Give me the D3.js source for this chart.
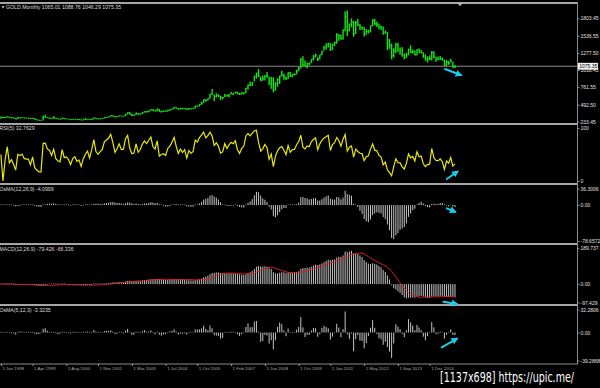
<!DOCTYPE html>
<html>
<head>
<meta charset="utf-8">
<script src="https://cdn.jsdelivr.net/npm/d3@7"></script>
<style>
    html, body { margin: 0; padding: 0; background: #000; }
    svg { display: block; }
</style>
</head>
<body>
<svg id="chart" width="600" height="388"></svg>
<script>
'use strict';

// monthly GOLD bars, Jan 1998 .. Dec 2015 (one row per year)
var closes = [
    303, 297, 301, 308, 293, 296, 288, 273, 294, 292, 294, 288,
    287, 287, 280, 286, 268, 261, 255, 255, 299, 300, 292, 290,
    283, 293, 278, 274, 272, 289, 276, 277, 273, 264, 270, 272,
    266, 267, 258, 264, 268, 271, 265, 273, 293, 279, 275, 279,
    282, 297, 302, 308, 326, 318, 305, 312, 324, 317, 317, 347,
    368, 347, 334, 336, 364, 346, 354, 375, 388, 384, 398, 416,
    400, 396, 427, 388, 393, 395, 391, 408, 415, 428, 453, 438,
    422, 435, 428, 435, 417, 435, 429, 433, 473, 470, 495, 517,
    569, 556, 582, 654, 643, 613, 633, 623, 599, 604, 646, 632,
    650, 665, 662, 678, 659, 650, 665, 672, 743, 789, 783, 834,
    923, 971, 917, 865, 885, 928, 912, 833, 870, 716, 815, 882,
    927, 942, 916, 883, 980, 926, 954, 955, 1001, 1040, 1182, 1096,
    1081, 1118, 1113, 1179, 1213, 1244, 1181, 1248, 1307, 1357, 1385, 1421,
    1332, 1410, 1439, 1556, 1536, 1500, 1628, 1828, 1620, 1714, 1746, 1565,
    1737, 1697, 1669, 1664, 1559, 1604, 1614, 1691, 1773, 1719, 1713, 1675,
    1663, 1578, 1595, 1472, 1392, 1234, 1312, 1396, 1327, 1323, 1250, 1202,
    1244, 1326, 1284, 1296, 1250, 1327, 1282, 1287, 1210, 1172, 1182, 1184,
    1283, 1212, 1183, 1182, 1190, 1172, 1095, 1134, 1115, 1142, 1065, 1075.35
];
var highs = [
    307, 307, 304, 315, 310, 301, 298, 290, 300, 302, 300, 299,
    292, 291, 292, 291, 290, 266, 263, 260, 324, 338, 302, 293,
    292, 316, 298, 284, 280, 294, 291, 280, 277, 274, 271, 275,
    273, 269, 268, 266, 291, 274, 272, 277, 294, 293, 282, 282,
    289, 298, 304, 312, 328, 330, 321, 316, 327, 325, 321, 349,
    376, 382, 353, 340, 372, 364, 363, 377, 391, 397, 402, 417,
    427, 414, 429, 428, 398, 402, 405, 413, 417, 431, 455, 457,
    441, 440, 446, 438, 436, 440, 433, 445, 474, 478, 497, 537,
    571, 575, 585, 654, 730, 641, 663, 651, 628, 606, 650, 643,
    653, 690, 670, 692, 690, 672, 682, 675, 744, 797, 845, 837,
    932, 977, 1033, 918, 936, 942, 988, 916, 915, 909, 831, 891,
    931, 1007, 963, 921, 980, 988, 959, 965, 1024, 1070, 1195, 1226,
    1161, 1127, 1134, 1180, 1249, 1265, 1212, 1251, 1307, 1388, 1425, 1431,
    1424, 1411, 1447, 1577, 1561, 1557, 1632, 1912, 1921, 1725, 1803, 1764,
    1764, 1792, 1717, 1679, 1667, 1641, 1625, 1693, 1790, 1796, 1755, 1725,
    1696, 1678, 1617, 1594, 1488, 1420, 1348, 1433, 1434, 1361, 1362, 1267,
    1280, 1345, 1392, 1331, 1315, 1332, 1345, 1323, 1288, 1255, 1225, 1238,
    1307, 1302, 1219, 1224, 1232, 1205, 1175, 1170, 1157, 1191, 1143, 1088.76
];
var lows = [
    278, 290, 288, 299, 290, 284, 285, 271, 273, 287, 290, 285,
    285, 282, 278, 279, 267, 256, 253, 252, 254, 296, 289, 279,
    280, 281, 277, 273, 268, 271, 274, 272, 270, 263, 264, 268,
    262, 255, 256, 254, 263, 265, 263, 264, 270, 277, 271, 270,
    278, 282, 288, 300, 308, 312, 302, 301, 312, 312, 315, 318,
    343, 344, 320, 321, 336, 340, 342, 350, 370, 371, 378, 398,
    398, 392, 390, 387, 372, 382, 388, 387, 398, 412, 426, 432,
    417, 418, 425, 423, 415, 415, 417, 429, 433, 463, 464, 491,
    516, 538, 554, 582, 642, 543, 601, 608, 561, 572, 603, 612,
    602, 649, 638, 663, 650, 640, 649, 647, 671, 721, 772, 777,
    848, 886, 913, 847, 854, 858, 900, 786, 735, 681, 705, 764,
    806, 919, 869, 866, 883, 914, 907, 934, 952, 1004, 1040, 1075,
    1075, 1044, 1088, 1123, 1166, 1211, 1157, 1177, 1241, 1315, 1330, 1361,
    1308, 1323, 1380, 1418, 1462, 1478, 1478, 1606, 1532, 1605, 1669, 1523,
    1564, 1687, 1627, 1627, 1527, 1556, 1572, 1588, 1684, 1699, 1672, 1635,
    1626, 1555, 1567, 1321, 1338, 1180, 1207, 1271, 1291, 1251, 1221, 1182,
    1203, 1240, 1277, 1268, 1240, 1240, 1282, 1274, 1206, 1161, 1131, 1170,
    1167, 1197, 1142, 1168, 1170, 1162, 1080, 1077, 1098, 1136, 1052, 1046.29
];
var lastOpen = 1065.01;

// right axis labels as printed by the terminal
var priceTicks = [1803.45, 1536.55, 1277.50, 1018.45, 761.55, 492.50, 233.45];
var rsiTicks = ['100', '0'];
var osma1Ticks = ['36.3006', '0.00', '-78.6572'];
var macdTicks = ['189.737', '0.00', '-97.429'];
var osma2Ticks = ['32.2806', '0.00', '-39.2868'];

// bar indexes that carry a date on the time scale
var timeTickBars = [0, 15, 31, 46, 62, 78, 93, 109, 125, 141, 156, 172, 188, 203];

// values shown in the sub-window titles
var rsiTitle = 'RSI(5) 32.7629';
var osma1Title = 'OsMA(12,26,9) -4.0999';
var macdTitle = 'MACD(12,26,9) -79.426 -66.336';
var osma2Title = 'OsMA(5,12,3) -3.3235';

// hand drawn arrows: [bar, value] -> [bar, value]
var mainArrow = [[210.3, 1033], [217.7, 942]];
var rsiArrow = [[211.1, 3.8], [216.1, 17.5]];
var osma1Arrow = [[211.1, -7.1], [215, -14.5]];
var macdArrow = [[209.5, -93.3], [215.8, -105.2]];
var osma2Arrow = [[208.7, -20.8], [215.8, -8.8]];

var months = d3.timeMonth.range(new Date(1998, 0, 1), new Date(2016, 0, 1));

var svg = d3.select('#chart');
var axisX = 577, plotRight = 577;
var green = '#18e418', histColor = '#c4c4c4', cyan = '#1ccbe8';
var font = '"Liberation Sans", Arial, sans-serif';

svg.append('rect').attr('width', 600).attr('height', 388).attr('fill', '#000');

var defs = svg.append('defs');
defs.append('marker')
    .attr('id', 'head')
    .attr('markerUnits', 'userSpaceOnUse')
    .attr('markerWidth', 7).attr('markerHeight', 7)
    .attr('refX', 5).attr('refY', 3.5)
    .attr('orient', 'auto')
    .append('path')
    .attr('d', 'M0,0 L7,3.5 L0,7 Z')
    .attr('fill', cyan);

var x = d3.scaleLinear().domain([0, closes.length - 1]).range([0.9, 0.9 + 2.112 * (closes.length - 1)]);

var yMain = d3.scaleLinear().domain([233.45, 1803.45]).range([121.7, 18.3]);
var yRsi = d3.scaleLinear().domain([0, 100]).range([181, 128]);
var yOsma1 = d3.scaleLinear().domain([-78.6572, 36.3006]).range([241, 188.5]);
var yMacd = d3.scaleLinear().domain([-97.429, 189.737]).range([302.5, 248.3]);
var yOsma2 = d3.scaleLinear().domain([-39.2868, 32.2806]).range([360.5, 309.5]);

// indicator maths, same as the terminal does it
function ema(values, period) {
    var k = 2 / (period + 1), prev, out = [];
    values.forEach(function (v, i) {
        prev = i === 0 ? v : prev + k * (v - prev);
        out.push(prev);
    });
    return out;
}

function sma(values, period) {
    return values.map(function (v, i) {
        return d3.mean(values.slice(Math.max(0, i - period + 1), i + 1));
    });
}

function rsi(values, period) {
    var out = [50], avgGain = 0, avgLoss = 0, i, diff;
    for (i = 1; i < values.length; i++) {
        diff = values[i] - values[i - 1];
        if (i <= period) {
            avgGain += Math.max(diff, 0) / period;
            avgLoss += Math.max(-diff, 0) / period;
        } else {
            avgGain = (avgGain * (period - 1) + Math.max(diff, 0)) / period;
            avgLoss = (avgLoss * (period - 1) + Math.max(-diff, 0)) / period;
        }
        out.push(avgLoss === 0 ? 100 : 100 - 100 / (1 + avgGain / avgLoss));
    }
    return out;
}

function macdOf(values, fast, slow, signal) {
    var f = ema(values, fast), s = ema(values, slow);
    var main = values.map(function (v, i) { return f[i] - s[i]; });
    var sig = sma(main, signal);
    return {main: main, signal: sig, osma: main.map(function (v, i) { return v - sig[i]; })};
}

var rsiValues = rsi(closes, 5);
var macd = macdOf(closes, 12, 26, 9);
var fastMacd = macdOf(closes, 5, 12, 3);

// panels: clip + frame
var panels = [
    {id: 'main', top: 4, bottom: 123},
    {id: 'rsi', top: 125, bottom: 183},
    {id: 'osma1', top: 185, bottom: 243},
    {id: 'macd', top: 245, bottom: 304},
    {id: 'osma2', top: 306, bottom: 363.5}
];
panels.forEach(function (p) {
    defs.append('clipPath').attr('id', 'clip-' + p.id)
        .append('rect')
        .attr('x', 0).attr('y', p.top)
        .attr('width', plotRight).attr('height', p.bottom - p.top);
});

[3, 124, 184, 244, 305].forEach(function (yy) {
    svg.append('line')
        .attr('x1', 0).attr('x2', plotRight)
        .attr('y1', yy).attr('y2', yy)
        .attr('stroke', '#a6a6a6').attr('stroke-width', 2);
});
svg.append('line')
    .attr('x1', 0).attr('x2', plotRight)
    .attr('y1', 364).attr('y2', 364)
    .attr('stroke', '#8c8c8c').attr('stroke-width', 1.2);
svg.append('line')
    .attr('x1', axisX + 0.5).attr('x2', axisX + 0.5)
    .attr('y1', 2).attr('y2', 364.5)
    .attr('stroke', '#8c8c8c').attr('stroke-width', 1);

// chart shift marker on the top edge
svg.append('path')
    .attr('d', 'M457.5,3.2 L462.5,3.2 L460,6.2 Z')
    .attr('fill', '#b8b8b8');

// main window
var mainG = svg.append('g').attr('clip-path', 'url(#clip-main)');

mainG.append('line')
    .attr('x1', 0).attr('x2', plotRight)
    .attr('y1', yMain(closes[closes.length - 1])).attr('y2', yMain(closes[closes.length - 1]))
    .attr('stroke', '#8a8a8a').attr('stroke-width', 1);

mainG.selectAll('.hl')
    .data(closes)
    .enter().append('line')
    .attr('class', 'hl')
    .attr('x1', function (d, i) { return x(i); })
    .attr('x2', function (d, i) { return x(i); })
    .attr('y1', function (d, i) { return yMain(highs[i]); })
    .attr('y2', function (d, i) { return yMain(lows[i]); })
    .attr('stroke', green).attr('stroke-width', 1.4);

mainG.selectAll('.cl')
    .data(closes)
    .enter().append('line')
    .attr('class', 'cl')
    .attr('x1', function (d, i) { return x(i); })
    .attr('x2', function (d, i) { return x(i) + 1.3; })
    .attr('y1', function (d) { return yMain(d); })
    .attr('y2', function (d) { return yMain(d); })
    .attr('stroke', green).attr('stroke-width', 1);

svg.append('path')
    .attr('d', 'M1.5,6.2 L4.5,6.2 L3,8.4 Z')
    .attr('fill', '#d8d8d8');
svg.append('text')
    .attr('x', 6).attr('y', 9.4)
    .attr('font-family', font).attr('font-size', 5.2)
    .attr('fill', '#dcdcdc')
    .text('GOLD,Monthly  ' + [lastOpen, highs[highs.length - 1], lows[lows.length - 1], closes[closes.length - 1]]
        .map(d3.format('.2f')).join(' '));

// RSI window
svg.append('path')
    .attr('clip-path', 'url(#clip-rsi)')
    .attr('d', d3.line().x(function (d, i) { return x(i); }).y(function (d) { return yRsi(d); })(rsiValues))
    .attr('fill', 'none').attr('stroke', '#e8e80c').attr('stroke-width', 1.2);

// histogram windows
function histogram(id, values, y) {
    svg.append('g').attr('clip-path', 'url(#clip-' + id + ')')
        .selectAll('line')
        .data(values)
        .enter().append('line')
        .attr('x1', function (d, i) { return x(i); })
        .attr('x2', function (d, i) { return x(i); })
        .attr('y1', y(0))
        .attr('y2', function (d) { return Math.abs(y(d) - y(0)) < 0.6 ? y(0) - 0.6 : y(d); })
        .attr('stroke', histColor).attr('stroke-width', 1);
}

histogram('osma1', macd.osma, yOsma1);
histogram('macd', macd.main, yMacd);
histogram('osma2', fastMacd.osma, yOsma2);

svg.append('path')
    .attr('clip-path', 'url(#clip-macd)')
    .attr('d', d3.line().x(function (d, i) { return x(i); }).y(function (d) { return yMacd(d); })(macd.signal))
    .attr('fill', 'none').attr('stroke', '#d42020').attr('stroke-width', 1);

// window titles
[[rsiTitle, 130.4], [osma1Title, 191.4], [macdTitle, 251], [osma2Title, 311.6]].forEach(function (t) {
    svg.append('text')
        .attr('x', -0.6).attr('y', t[1])
        .attr('font-family', font).attr('font-size', 5.2)
        .attr('fill', '#dcdcdc')
        .text(t[0]);
});

// right price scales
function rightAxis(scale, values, labels) {
    var g = svg.append('g')
        .attr('transform', 'translate(' + (axisX + 1) + ',0)')
        .call(d3.axisRight(scale)
            .tickValues(values)
            .tickSize(1.5)
            .tickPadding(1)
            .tickFormat(function (d, i) { return labels[i]; }));
    g.select('.domain').remove();
    g.selectAll('line').attr('stroke', '#8c8c8c');
    g.selectAll('text')
        .attr('font-family', font).attr('font-size', 5)
        .attr('fill', '#e0e0e0');
}

rightAxis(yMain, priceTicks, priceTicks.map(d3.format('.2f')));
rightAxis(yRsi, rsiTicks.map(Number), rsiTicks);
rightAxis(yOsma1, osma1Ticks.map(Number), osma1Ticks);
rightAxis(yMacd, macdTicks.map(Number), macdTicks);
rightAxis(yOsma2, osma2Ticks.map(Number), osma2Ticks);

// current price box
var lastY = yMain(closes[closes.length - 1]);
svg.append('rect')
    .attr('x', axisX + 1).attr('y', lastY - 3.4)
    .attr('width', 20).attr('height', 6.8)
    .attr('fill', '#f2f2f2');
svg.append('text')
    .attr('x', axisX + 2.2).attr('y', lastY + 1.8)
    .attr('font-family', font).attr('font-size', 5)
    .attr('fill', '#000')
    .text(d3.format('.2f')(closes[closes.length - 1]));

// time scale
var timeAxis = svg.append('g')
    .attr('transform', 'translate(0,364)')
    .call(d3.axisBottom(x)
        .tickValues(timeTickBars)
        .tickSize(2)
        .tickPadding(0.5)
        .tickFormat(function (i) { return d3.timeFormat('%-d %b %Y')(months[i]); }));
timeAxis.select('.domain').remove();
timeAxis.selectAll('line').attr('stroke', '#9a9a9a');
timeAxis.selectAll('text')
    .attr('font-family', font).attr('font-size', 4.4)
    .attr('text-anchor', 'start')
    .attr('dx', 1)
    .attr('fill', '#a8a8a8');

// arrows
[[mainArrow, yMain], [rsiArrow, yRsi], [osma1Arrow, yOsma1], [macdArrow, yMacd], [osma2Arrow, yOsma2]].forEach(function (a) {
    svg.append('line')
        .attr('x1', x(a[0][0][0])).attr('y1', a[1](a[0][0][1]))
        .attr('x2', x(a[0][1][0])).attr('y2', a[1](a[0][1][1]))
        .attr('stroke', cyan).attr('stroke-width', 2)
        .attr('stroke-linecap', 'round')
        .attr('marker-end', 'url(#head)');
});

// watermark (narrow face stretched upward)
svg.append('text')
    .attr('transform', 'translate(440,381.5) scale(1,1.25)')
    .attr('font-family', '"DejaVu Sans Condensed", "DejaVu Sans", sans-serif')
    .attr('font-size', 10.6)
    .attr('fill', '#ffffff')
    .text('[1137x698] https://upic.me/');
</script>
</body>
</html>
